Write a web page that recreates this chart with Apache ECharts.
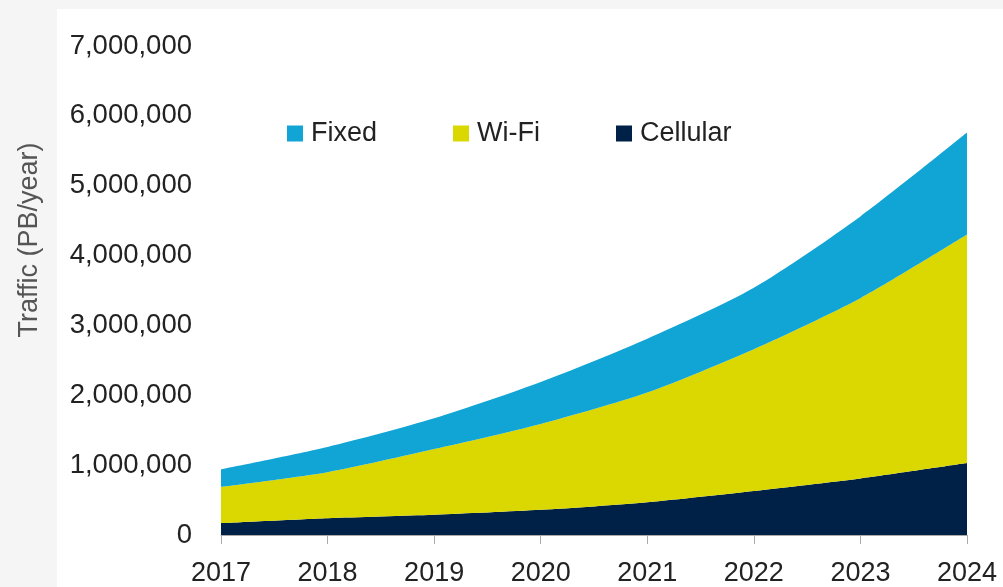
<!DOCTYPE html>
<html>
<head>
<meta charset="utf-8">
<script src="https://cdn.jsdelivr.net/npm/echarts@6/dist/echarts.min.js"></script>
<style>
  html, body { margin: 0; padding: 0; background: #f5f5f5; }
  #chart { width: 1003px; height: 587px; }
</style>
</head>
<body>
<div id="chart"></div>
<script>
// data (PB/year)
var years = ['2017', '2018', '2019', '2020', '2021', '2022', '2023', '2024'];
var cellular = [170000, 240000, 290000, 360000, 470000, 630000, 810000, 1030000];
var wifi = [520000, 660000, 940000, 1230000, 1570000, 2030000, 2580000, 3270000];
var fixed = [250000, 360000, 440000, 600000, 770000, 880000, 1170000, 1460000];

var FONT = '"Liberation Sans", Arial, sans-serif';

var chart = echarts.init(document.getElementById('chart'));

function areaSeries(name, data, color) {
    return {
        name: name,
        type: 'line',
        stack: 'traffic',
        data: data,
        smooth: 0.25,
        symbol: 'none',
        lineStyle: { width: 0 },
        areaStyle: { color: color, opacity: 1 },
        itemStyle: { color: color }
    };
}

chart.setOption({
    backgroundColor: '#f5f5f5',
    animation: false,
    graphic: [{
        type: 'rect',
        z: -10,
        shape: { x: 57, y: 9, width: 946, height: 578 },
        style: { fill: '#ffffff' }
    }, {
        // y axis title, sits in the grey margin
        type: 'text',
        x: 30,
        y: 240,
        rotation: Math.PI / 2,
        style: {
            text: 'Traffic (PB/year)',
            font: '27px "Liberation Sans", Arial, sans-serif',
            fill: '#555',
            textAlign: 'center',
            textVerticalAlign: 'middle'
        }
    }],
    legend: {
        data: ['Fixed', 'Wi-Fi', 'Cellular'],
        left: 282,
        top: 115,
        icon: 'rect',
        itemWidth: 16,
        itemHeight: 16,
        itemGap: 76,
        textStyle: { fontFamily: FONT, fontSize: 27, color: '#222', padding: [0, 0, 0, 3] }
    },
    grid: { left: 221, right: 36, top: 46, bottom: 52 },
    xAxis: {
        type: 'category',
        data: years,
        boundaryGap: false,
        axisLine: { lineStyle: { color: '#aaa' } },
        axisTick: { length: 9, lineStyle: { color: '#aaa' } },
        axisLabel: { fontFamily: FONT, fontSize: 27, color: '#222', margin: 25 },
        splitLine: { show: false }
    },
    yAxis: {
        type: 'value',
        min: 0,
        max: 7000000,
        interval: 1000000,
        axisLine: { show: false },
        axisTick: { show: false },
        splitLine: { show: false },
        axisLabel: {
            fontFamily: FONT, fontSize: 27.5, color: '#222', margin: 29,
            formatter: function (v) { return v.toLocaleString('en-US'); }
        }
    },
    series: [
        areaSeries('Cellular', cellular, '#002147'),
        areaSeries('Wi-Fi', wifi, '#dad800'),
        areaSeries('Fixed', fixed, '#10a5d5')
    ]
});
</script>
</body>
</html>
